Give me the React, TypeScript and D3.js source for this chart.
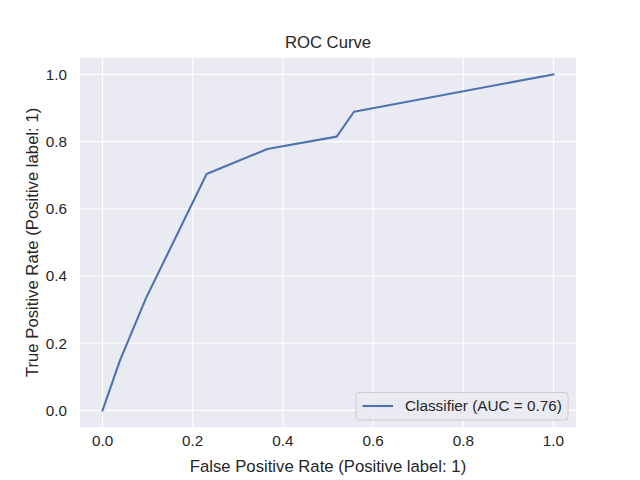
import React from 'react';
import * as d3 from 'd3';

// ROC points (27 positives, 52 negatives)
const fpr = [0, 2 / 52, 5 / 52, 12 / 52, 19 / 52, 27 / 52, 29 / 52, 1];
const tpr = [0, 4 / 27, 9 / 27, 19 / 27, 21 / 27, 22 / 27, 24 / 27, 1];
const ticks = [0, 0.2, 0.4, 0.6, 0.8, 1.0];
const legendLabel = 'Classifier (AUC = 0.76)';

const W = 640;
const H = 480;
const left = 80;
const right = 576;
const top = 57.6;
const bottom = 427.2;
const font = '"Liberation Sans", Arial, sans-serif';
const txt = '#262626';

const App: React.FC = () => {
  const x = d3.scaleLinear().domain([-0.05, 1.05]).range([left, right]);
  const y = d3.scaleLinear().domain([-0.05, 1.05]).range([bottom, top]);

  const pts = fpr.map((f, i) => [f, tpr[i]] as [number, number]);
  const line = d3.line<[number, number]>()
    .x((d) => x(d[0]))
    .y((d) => y(d[1]));

  const lx = 356;
  const ly = 392.5;

  return (
    <svg width={W} height={H} style={{ position: 'absolute', left: 0, top: 0, background: '#fff' }}>
      <rect x={left} y={top} width={right - left} height={bottom - top} fill="#EAEAF2" />
      {ticks.map((t) => (
        <g key={'g' + t}>
          <line x1={x(t)} x2={x(t)} y1={top} y2={bottom} stroke="#fff" strokeWidth={1.1} />
          <line x1={left} x2={right} y1={y(t)} y2={y(t)} stroke="#fff" strokeWidth={1.1} />
        </g>
      ))}
      <path d={line(pts) ?? ''} fill="none" stroke="#4C72B0" strokeWidth={2.08} strokeLinejoin="round" strokeLinecap="square" />

      {ticks.map((t) => (
        <text key={'x' + t} x={x(t)} y={bottom + 19} textAnchor="middle" fontFamily={font} fontSize={15.3} fill={txt}>
          {t.toFixed(1)}
        </text>
      ))}
      {ticks.map((t) => (
        <text key={'y' + t} x={left - 13} y={y(t)} dy="0.35em" textAnchor="end" fontFamily={font} fontSize={15.3} fill={txt}>
          {t.toFixed(1)}
        </text>
      ))}

      <text x={(left + right) / 2} y={48} textAnchor="middle" fontFamily={font} fontSize={16.7} fill={txt}>ROC Curve</text>
      <text x={(left + right) / 2} y={472} textAnchor="middle" fontFamily={font} fontSize={16.7} fill={txt}>
        False Positive Rate (Positive label: 1)
      </text>
      <text transform={`translate(38,${(top + bottom) / 2}) rotate(-90)`} textAnchor="middle" fontFamily={font} fontSize={16.7} fill={txt}>
        True Positive Rate (Positive label: 1)
      </text>

      <rect x={lx} y={ly} width={212} height={27.5} rx={3} fill="#EAEAF2" fillOpacity={0.8} stroke="#CCCCCC" strokeWidth={1} />
      <line x1={lx + 6.5} x2={lx + 37} y1={ly + 13.5} y2={ly + 13.5} stroke="#4C72B0" strokeWidth={2.08} />
      <text x={lx + 49} y={ly + 13.5} dy="0.35em" fontFamily={font} fontSize={15.3} fill={txt}>{legendLabel}</text>
    </svg>
  );
};

export default App;
